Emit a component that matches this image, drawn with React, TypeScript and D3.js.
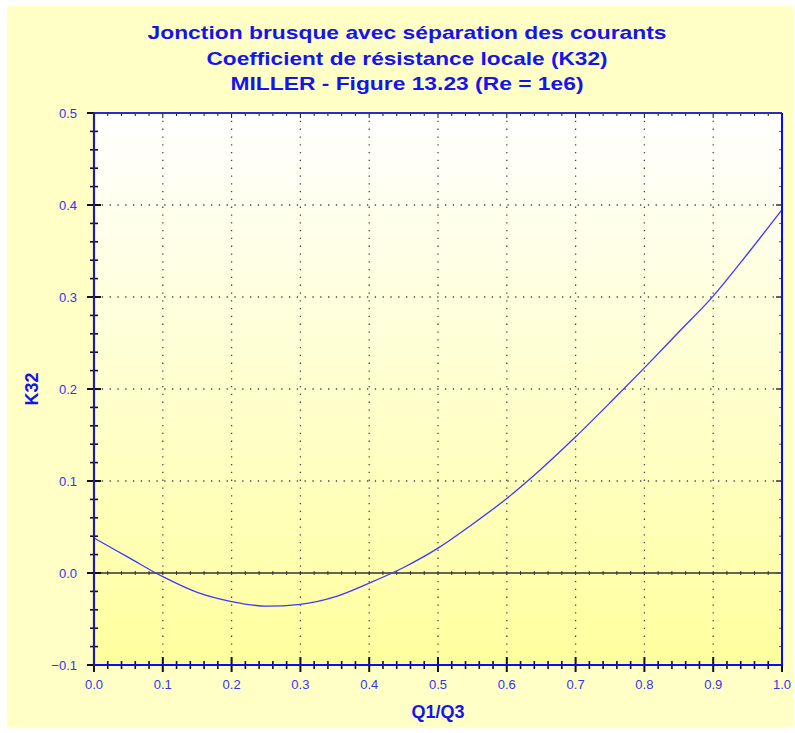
import React, { useEffect, useRef } from 'react';
import * as d3 from 'd3';

// K32
const ratioQ1Q3 = [0, 0.05, 0.1, 0.15, 0.2, 0.25, 0.3, 0.35, 0.4, 0.45, 0.5, 0.55, 0.6, 0.65, 0.7, 0.75, 0.8, 0.85, 0.9, 0.95, 1.0];
const k32 = [0.038, 0.017, -0.004, -0.021, -0.031, -0.036, -0.034, -0.026, -0.011, 0.006, 0.027, 0.053, 0.081, 0.113, 0.148, 0.185, 0.223, 0.262, 0.301, 0.347, 0.395];

const xTicks = [0, 0.1, 0.2, 0.3, 0.4, 0.5, 0.6, 0.7, 0.8, 0.9, 1.0];
const yTicks = [-0.1, 0, 0.1, 0.2, 0.3, 0.4, 0.5];
const titleLines = [
  'Jonction brusque avec séparation des courants',
  'Coefficient de résistance locale (K32)',
  'MILLER - Figure 13.23 (Re = 1e6)',
];
// rendered widths of the title lines in the original (the font there is wider)
const titleWidths = [519, 401, 353];

const W = 795;
const H = 733;

export default function App() {
  const ref = useRef<SVGSVGElement>(null);

  useEffect(() => {
    const svg = d3.select(ref.current);
    svg.selectAll('*').remove();

    const left = 94, right = 782, top = 113, bottom = 665;
    const x = d3.scaleLinear().domain([0, 1]).range([left, right]);
    const y = d3.scaleLinear().domain([-0.1, 0.5]).range([bottom, top]);
    const font = 'Arial, "Liberation Sans", sans-serif';

    const defs = svg.append('defs');
    const grad = defs.append('linearGradient')
      .attr('id', 'plotbg').attr('x1', 0).attr('y1', 0).attr('x2', 0).attr('y2', 1);
    grad.append('stop').attr('offset', '0%').attr('stop-color', '#ffffff');
    grad.append('stop').attr('offset', '100%').attr('stop-color', '#ffff9e');

    // outer panel
    svg.append('rect')
      .attr('x', 7).attr('y', 6).attr('width', 786).attr('height', 721)
      .attr('fill', '#ffffc6');

    svg.append('rect')
      .attr('x', left).attr('y', top)
      .attr('width', right - left).attr('height', bottom - top)
      .attr('fill', 'url(#plotbg)');

    // dotted grid
    const g = svg.append('g');
    g.selectAll('.gx')
      .data(xTicks.filter(d => d > 0 && d < 1))
      .enter().append('line')
      .attr('x1', d => x(d)).attr('x2', d => x(d))
      .attr('y1', top).attr('y2', bottom)
      .attr('stroke', '#444').attr('stroke-width', 1.3)
      .attr('stroke-dasharray', '1.3,6.5');
    g.selectAll('.gy')
      .data(yTicks.filter(d => d > 0 && d < 0.5))
      .enter().append('line')
      .attr('x1', left).attr('x2', right)
      .attr('y1', d => y(d)).attr('y2', d => y(d))
      .attr('stroke', '#444').attr('stroke-width', 1.3)
      .attr('stroke-dasharray', '1.3,6.5');

    const minorX = d3.range(0, 51).map(i => i / 50);
    const minorY = d3.range(0, 31).map(i => -0.1 + i / 50);
    const isMajor = (v: number) => Math.abs(v * 10 - Math.round(v * 10)) < 1e-6;

    // zero line with small ticks
    svg.append('line')
      .attr('x1', left).attr('x2', right)
      .attr('y1', y(0)).attr('y2', y(0))
      .attr('stroke', '#333').attr('stroke-width', 1.4);
    svg.selectAll('.zt')
      .data(minorX)
      .enter().append('line')
      .attr('x1', d => x(d)).attr('x2', d => x(d))
      .attr('y1', y(0) - 2).attr('y2', y(0) + 2)
      .attr('stroke', '#333').attr('stroke-width', 1);

    // curve
    const line = d3.line<number>()
      .x((d, i) => x(ratioQ1Q3[i]))
      .y(d => y(d))
      .curve(d3.curveMonotoneX);
    svg.append('path')
      .attr('d', line(k32))
      .attr('fill', 'none')
      .attr('stroke', '#3a3aff')
      .attr('stroke-width', 1.3);

    // ticks
    const tk = svg.append('g').attr('stroke', '#111');
    // bottom, crossing the axis
    tk.selectAll('.bt').data(minorX).enter().append('line')
      .attr('x1', d => x(d)).attr('x2', d => x(d))
      .attr('y1', d => bottom - (isMajor(d) ? 8 : 4))
      .attr('y2', d => bottom + (isMajor(d) ? 7 : 4))
      .attr('stroke-width', d => (isMajor(d) ? 2 : 1.6));
    // top, inward
    tk.selectAll('.tt').data(minorX).enter().append('line')
      .attr('x1', d => x(d)).attr('x2', d => x(d))
      .attr('y1', top)
      .attr('y2', d => top + (isMajor(d) ? 5 : 3))
      .attr('stroke-width', 1);
    // left, crossing the axis
    tk.selectAll('.lt').data(minorY).enter().append('line')
      .attr('y1', d => y(d)).attr('y2', d => y(d))
      .attr('x1', d => left - (isMajor(d) ? 7 : 4))
      .attr('x2', d => left + (isMajor(d) ? 7 : 4))
      .attr('stroke-width', d => (isMajor(d) ? 2 : 1.6));
    // right, inward
    tk.selectAll('.rt').data(minorY).enter().append('line')
      .attr('y1', d => y(d)).attr('y2', d => y(d))
      .attr('x1', d => right - (isMajor(d) ? 6 : 3))
      .attr('x2', right)
      .attr('stroke', '#555')
      .attr('stroke-width', d => (isMajor(d) ? 1.8 : 1));

    // axis frame
    svg.append('line').attr('x1', left).attr('x2', right).attr('y1', top).attr('y2', top)
      .attr('stroke', '#2a2ad0').attr('stroke-width', 2);
    svg.append('line').attr('x1', left).attr('x2', right).attr('y1', bottom).attr('y2', bottom)
      .attr('stroke', '#0a0aff').attr('stroke-width', 2);
    svg.append('line').attr('x1', right).attr('x2', right).attr('y1', top).attr('y2', bottom)
      .attr('stroke', '#0a0aff').attr('stroke-width', 2);
    svg.append('line').attr('x1', left).attr('x2', left).attr('y1', top - 1).attr('y2', bottom + 1)
      .attr('stroke', '#1e1e9e').attr('stroke-width', 2.2);

    // tick labels
    svg.selectAll('.xl').data(xTicks).enter().append('text')
      .attr('x', d => x(d)).attr('y', bottom + 24)
      .attr('text-anchor', 'middle')
      .attr('font-family', font).attr('font-size', 13)
      .attr('fill', '#3434ee')
      .text(d => d3.format('.1f')(d));
    svg.selectAll('.yl').data(yTicks).enter().append('text')
      .attr('x', left - 17).attr('y', d => y(d) + 4.5)
      .attr('text-anchor', 'end')
      .attr('font-family', font).attr('font-size', 13)
      .attr('fill', '#3434ee')
      .text(d => d3.format('.1f')(d));

    // titles
    svg.selectAll('.title').data(titleLines).enter().append('text')
      .attr('x', 407).attr('y', (d, i) => 39 + i * 25.5)
      .attr('text-anchor', 'middle')
      .attr('font-family', font).attr('font-size', 19).attr('font-weight', 'bold')
      .attr('textLength', (d, i) => titleWidths[i])
      .attr('lengthAdjust', 'spacingAndGlyphs')
      .attr('fill', '#1414f0')
      .text(d => d);

    svg.append('text')
      .attr('x', (left + right) / 2).attr('y', 718)
      .attr('text-anchor', 'middle')
      .attr('font-family', font).attr('font-size', 18).attr('font-weight', 'bold')
      .attr('fill', '#1414f0')
      .text('Q1/Q3');

    svg.append('text')
      .attr('transform', `translate(38,${(top + bottom) / 2}) rotate(-90)`)
      .attr('text-anchor', 'middle')
      .attr('font-family', font).attr('font-size', 18).attr('font-weight', 'bold')
      .attr('fill', '#1414f0')
      .text('K32');
  }, []);

  return (
    <svg ref={ref} width={W} height={H}
      style={{ position: 'absolute', left: 0, top: 0, background: '#ffffff' }} />
  );
}
